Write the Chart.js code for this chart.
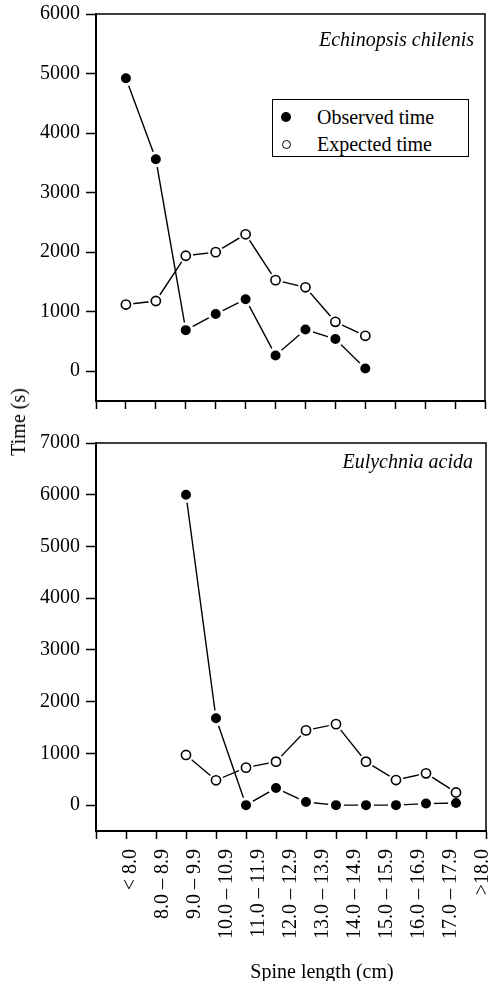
<!DOCTYPE html>
<html>
<head>
<meta charset="utf-8">
<title>Spine length vs time</title>
<script src="https://cdn.jsdelivr.net/npm/chart.js@4.4.1/dist/chart.umd.min.js"></script>
<style>
    html, body { margin: 0; padding: 0; background: #fff; }
    body {
        width: 488px;
        height: 981px;
        position: relative;
        overflow: hidden;
        font-family: "Liberation Serif", "Times New Roman", serif;
        color: #000;
    }
    canvas { position: absolute; left: 0; display: block; }
    #topChart { top: 0; }
    #bottomChart { top: 420px; }
    .species {
        position: absolute;
        font-style: italic;
        font-size: 20px;
        line-height: 24px;
        white-space: nowrap;
    }
    .legend {
        position: absolute;
        left: 272px;
        top: 99px;
        width: 195px;
        height: 56px;
        border: 1px solid #000;
        background: #fff;
        font-size: 20px;
        line-height: 24px;
    }
    .legend .row { position: absolute; left: 44px; white-space: nowrap; }
    .legend .dot {
        position: absolute;
        left: -36px;
        top: 7px;
        width: 10px;
        height: 10px;
        border-radius: 50%;
        box-sizing: border-box;
    }
    .dot.filled { background: #000; }
    .dot.open { border: 1.6px solid #000; width: 9px; height: 9px; left: -35px; top: 8px; }
    .axis-title {
        position: absolute;
        font-size: 20px;
        line-height: 24px;
        white-space: nowrap;
    }
</style>
</head>
<body>
<canvas id="topChart" width="488" height="420"></canvas>
<canvas id="bottomChart" width="488" height="561"></canvas>

<div class="species" style="right: 14px; top: 27px;">Echinopsis chilenis</div>
<div class="species" style="right: 15px; top: 449px;">Eulychnia acida</div>

<div class="legend">
    <div class="row" style="top: 5px;"><span class="dot filled"></span>Observed time</div>
    <div class="row" style="top: 32px;"><span class="dot open"></span>Expected time</div>
</div>

<div class="axis-title" style="left: 18px; top: 422px; transform: translate(-50%, -50%) rotate(-90deg);">Time (s)</div>
<div class="axis-title" style="left: 322px; top: 959px; transform: translateX(-50%);">Spine length (cm)</div>

<script>
// Spine length classes (x axis)
const categories = ['< 8.0', '8.0 – 8.9', '9.0 – 9.9', '10.0 – 10.9', '11.0 – 11.9', '12.0 – 12.9',
    '13.0 – 13.9', '14.0 – 14.9', '15.0 – 15.9', '16.0 – 16.9', '17.0 – 17.9', '>18.0'];

// Echinopsis chilenis, time (s)
const chilenisObserved = [4920, 3560, 690, 960, 1210, 265, 700, 540, 45, null, null, null];
const chilenisExpected = [1120, 1180, 1940, 2000, 2300, 1530, 1410, 830, 595, null, null, null];

// Eulychnia acida, time (s)
const acidaObserved = [null, null, 6000, 1680, 0, 330, 60, 0, 0, 0, 30, 40];
const acidaExpected = [null, null, 970, 480, 725, 840, 1445, 1565, 840, 485, 615, 245];

// Tick labels
const topTicks = [0, 1000, 2000, 3000, 4000, 5000, 6000];
const bottomTicks = [0, 1000, 2000, 3000, 4000, 5000, 6000, 7000];

Chart.defaults.font.family = "'Liberation Serif', 'Times New Roman', serif";
Chart.defaults.color = '#000';

// tick slots: one per class plus both ends of the axis
const xTickSlots = [0, ...categories.map((c, i) => i + 1), categories.length + 1];

function toPoints(values) {
    return values.map((v, i) => ({ x: i + 1, y: v }));
}

// box around the plot area
const framePlugin = {
    id: 'frame',
    beforeDatasetsDraw(chart) {
        const a = chart.chartArea;
        const ctx = chart.ctx;
        ctx.save();
        ctx.strokeStyle = '#000';
        ctx.lineWidth = 1.5;
        ctx.strokeRect(a.left, a.top, a.right - a.left, a.bottom - a.top);
        ctx.restore();
    }
};

function initPanel(id, observed, expected, yMax, yTicks, opts) {
    const ctx = document.getElementById(id);
    if (!ctx) return;

    const scales = {
        x: {
            type: 'linear',
            min: 0,
            max: categories.length + 1,
            weight: 0,
            afterBuildTicks: axis => { axis.ticks = xTickSlots.map(v => ({ value: v })); },
            ticks: { display: false },
            grid: { drawOnChartArea: false, drawTicks: true, tickLength: 8, tickColor: '#000', tickWidth: 1.5 },
            border: { color: '#000', width: 2 },
            afterFit: axis => {
                axis.height = opts.xHeight;
                axis.paddingLeft = 0;
                axis.paddingRight = 0;
            }
        },
        y: {
            min: -500,
            max: yMax,
            afterBuildTicks: axis => { axis.ticks = yTicks.map(v => ({ value: v })); },
            ticks: {
                padding: 6,
                font: { size: 20 },
                color: '#000',
                callback: v => String(v)
            },
            grid: { drawOnChartArea: false, tickLength: 10, tickColor: '#000', tickWidth: 1.5 },
            border: { color: '#000', width: 2 },
            afterFit: axis => {
                axis.width = 96;
                axis.paddingTop = 0;
                axis.paddingBottom = 0;
            }
        }
    };

    if (opts.labels) {
        // class labels sit on their own axis (they drift a little from the tick marks)
        scales.x2 = {
            type: 'linear',
            position: 'bottom',
            min: -0.09,
            max: 12.1,
            weight: 1,
            afterBuildTicks: axis => { axis.ticks = categories.map((c, i) => ({ value: i + 1 })); },
            ticks: {
                autoSkip: false,
                maxRotation: 90,
                minRotation: 90,
                padding: 10,
                font: { size: 20 },
                color: '#000',
                callback: v => categories[v - 1]
            },
            grid: { display: false, drawTicks: false },
            border: { display: false },
            afterFit: axis => {
                axis.height = opts.labelHeight;
                axis.paddingLeft = 0;
                axis.paddingRight = 0;
            }
        };
    }

    new Chart(ctx, {
        type: 'line',
        data: {
            datasets: [
                {
                    label: 'Observed time',
                    data: toPoints(observed),
                    borderColor: '#000',
                    borderWidth: 1.4,
                    pointRadius: 6.5,
                    pointBackgroundColor: '#000',
                    pointBorderColor: '#fff',
                    pointBorderWidth: 3,
                    order: 1
                },
                {
                    label: 'Expected time',
                    data: toPoints(expected),
                    borderColor: '#000',
                    borderWidth: 1.4,
                    pointRadius: 7.5,
                    pointBackgroundColor: '#fff',
                    pointBorderWidth: 0,
                    order: 2
                },
                {
                    label: 'Expected markers',
                    data: toPoints(expected),
                    showLine: false,
                    pointRadius: 4.6,
                    pointBackgroundColor: '#fff',
                    pointBorderColor: '#000',
                    pointBorderWidth: 1.6,
                    order: 0
                }
            ]
        },
        options: {
            responsive: false,
            animation: false,
            devicePixelRatio: 1,
            layout: { autoPadding: false, padding: opts.padding },
            plugins: {
                legend: { display: false },
                tooltip: { enabled: false }
            },
            scales: scales
        },
        plugins: [framePlugin]
    });
}

initPanel('topChart', chilenisObserved, chilenisExpected, 6000, topTicks, {
    xHeight: 19,
    labels: false,
    padding: { top: 14, right: 3, left: 0, bottom: 0 }
});

initPanel('bottomChart', acidaObserved, acidaExpected, 7000, bottomTicks, {
    xHeight: 8,
    labels: true,
    labelHeight: 142,
    padding: { top: 23, right: 2, left: 0, bottom: 0 }
});
</script>
</body>
</html>
